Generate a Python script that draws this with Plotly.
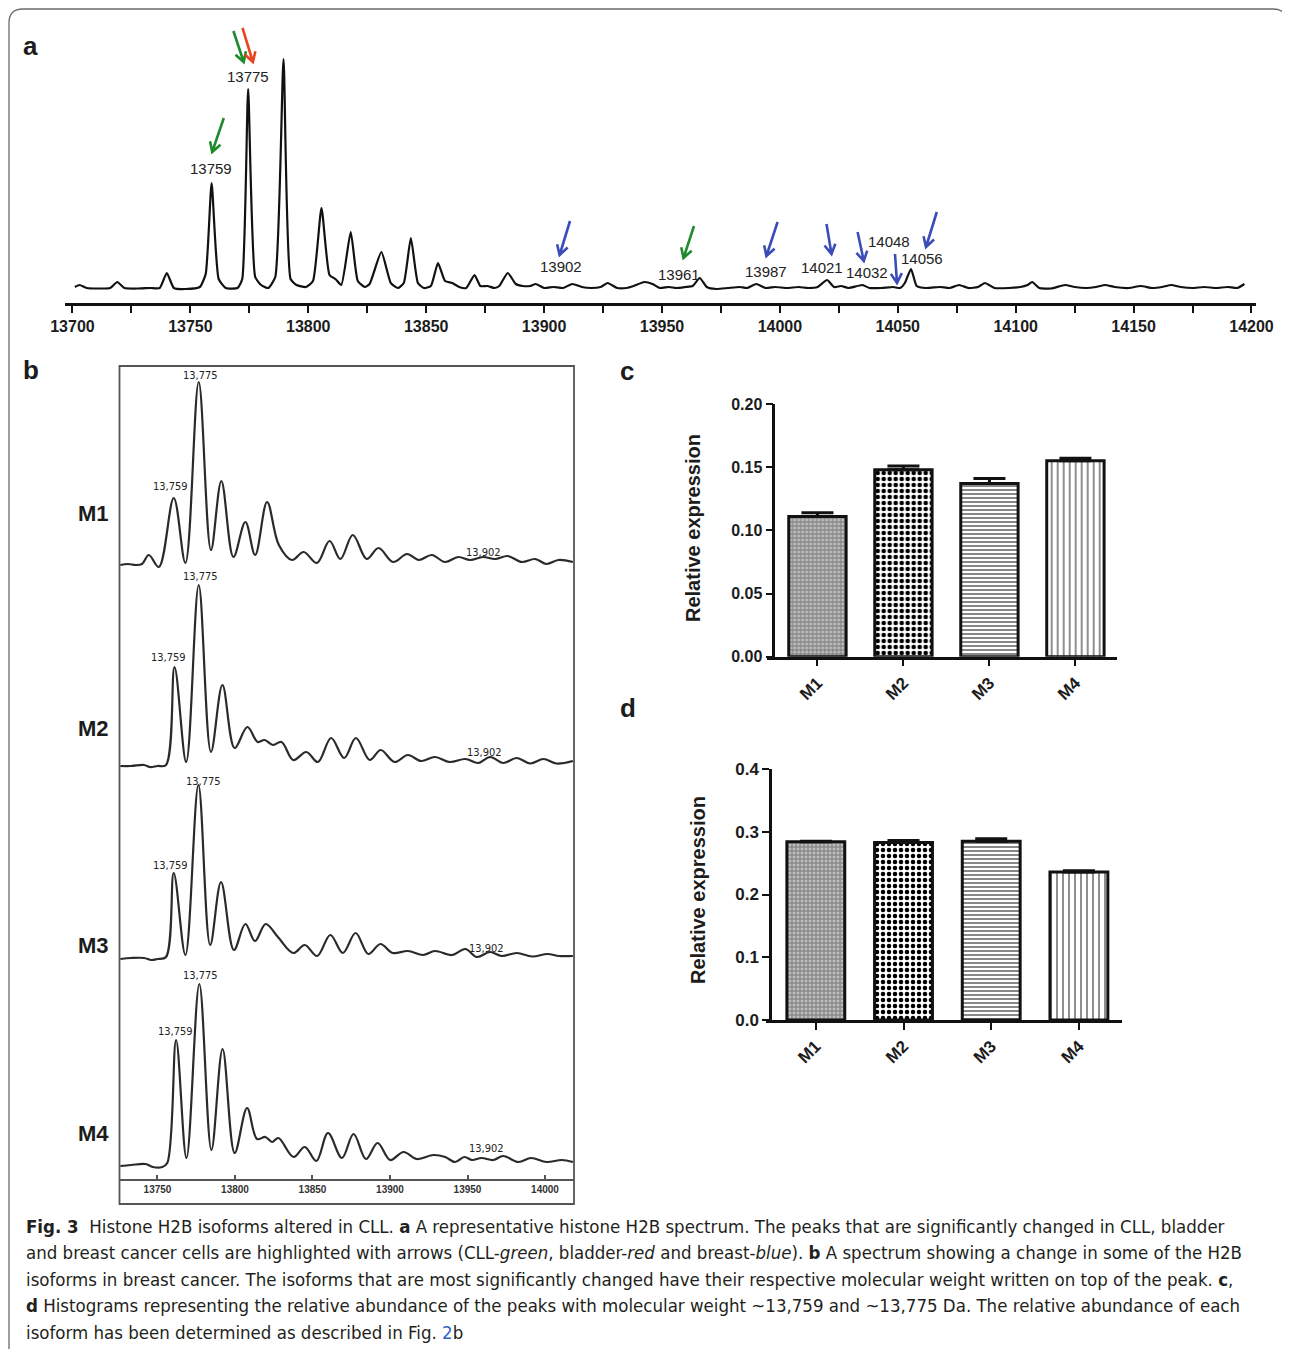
import math
import plotly.graph_objects as go

# page is offset by the 8px body margin; the figure is sized to fit the window
PAGE_OFF = 8
W, H = 1282, 1341

# ---------------- data ----------------
# Panel a: representative H2B spectrum (mass, relative intensity), peaks/valleys
A_MASS = [13701, 13703, 13706, 13712, 13716, 13719, 13722, 13728, 13733, 13737, 13740, 13743, 13748,
          13754, 13756.5, 13759, 13762, 13765, 13770, 13772, 13774.5, 13777.5, 13780, 13783, 13786,
          13789.5, 13792.5, 13795, 13799, 13802, 13805.6, 13809, 13811.5, 13814, 13818, 13821, 13824,
          13826, 13831, 13835, 13838, 13840.5, 13843.5, 13846.5, 13849, 13852, 13855, 13858, 13861,
          13864, 13867, 13870.5, 13873, 13876, 13879, 13881, 13884.6, 13888, 13891, 13894, 13896.5,
          13900, 13904, 13908, 13912, 13916, 13920, 13924, 13927, 13931, 13935, 13938, 13942.5, 13946,
          13949, 13953, 13956, 13960, 13963, 13966, 13969, 13973, 13978, 13983, 13986, 13990, 13994,
          13998, 14003, 14008, 14012, 14016, 14020, 14023, 14026, 14029, 14035, 14038, 14043, 14048,
          14051, 14053, 14055.6, 14058, 14062, 14068, 14072, 14076, 14080, 14084, 14087, 14091, 14097,
          14102, 14105, 14107, 14110, 14115, 14121, 14125, 14130, 14134, 14138, 14142, 14148, 14153,
          14158, 14162, 14166, 14170, 14175, 14180, 14185, 14190, 14194, 14197]
A_INT = [2, 4, 1, 0.5, 1, 7, 1, 0.5, 1, 1, 16, 1, 0,
         2, 15, 106, 10, 1, 1, 10, 200, 12, 4, 1, 12,
         230, 10, 4, 2, 8, 81, 14, 10, 4, 57, 8, 2,
         5, 37, 6, 1, 6, 51, 6, 1, 3, 26, 8, 6,
         2, 1, 14, 3, 3, 1, 3, 16, 5, 3, 3, 5,
         1, 2, 1, 5, 2, 1, 2, 6, 1, 1, 3, 7, 5,
         1, 2, 1, 2, 3, 11, 2, 0, 1, 2, 1, 5, 1,
         2, 1, 2, 1, 2, 9, 2, 3, 1, 4, 1, 1, 2,
         1, 6, 20, 3, 1, 2, 1, 4, 1, 2, 6, 1, 1,
         2, 4, 7, 1, 0.5, 4, 2, 1, 2, 4, 2, 1, 3,
         1, 2, 4, 2, 1, 2, 1, 2, 1, 5]
A_TICKS = [13700, 13750, 13800, 13850, 13900, 13950, 14000, 14050, 14100, 14150, 14200]
A_LABELS = ["13759", "13775", "13902", "13961", "13987", "14021", "14032", "14048", "14056"]

# Panel b: four spectra (mass, intensity)
B_MASS_M1 = [13726, 13731, 13736, 13740, 13744.4, 13750.9, 13760.5, 13768.0, 13776.6, 13784.5, 13791.2,
             13799.0, 13806.7, 13813.0, 13820.7, 13828.3, 13836.8, 13844.3, 13852.8, 13861, 13868,
             13876, 13885, 13892.6, 13902, 13911, 13918.5, 13927, 13935.5, 13944, 13951.7, 13960,
             13967.8, 13976, 13985, 13993.6, 14001, 14008.6, 14018]
B_INT_M1 = [0, 1, 0, 1, 10, -2, 67, 2, 183, 15, 84,
            8, 43, 10, 63, 20, 5, 13, 2, 24, 6,
            30, 6, 17, 3, 11, 5, 10, 3, 8, 5, 8,
            6, 9, 3, 6, 1, 5, 3]
B_MASS_M2 = [13726, 13733, 13741.4, 13745, 13750, 13755.5, 13761, 13768.5, 13776.6, 13784.5, 13791.9,
             13799.8, 13808, 13814.6, 13819, 13824.5, 13830, 13837.6, 13846, 13853.5, 13862, 13870.4,
             13878, 13886.9, 13894, 13902.9, 13911.5, 13920, 13929, 13938.5, 13948.6, 13957, 13964.6,
             13973, 13981.8, 13990.5, 13999, 14007.5, 14018]
B_INT_M2 = [0, 0, 1, -1, 0, 1, 99, 4, 181, 14, 81,
            18, 39, 24, 26, 21, 24, 6, 14, 4, 28, 8,
            28, 6, 16, 4, 11, 5, 9, 4, 7, 3, 9,
            3, 8, 2.5, 7, 2.5, 5]
B_MASS_M3 = [13726, 13733, 13741.4, 13746, 13750, 13755.5, 13760.5, 13768, 13776.4, 13784, 13791,
             13799.3, 13806.7, 13812.9, 13819.8, 13827.7, 13837.6, 13845, 13853, 13861.5, 13869.6,
             13877.8, 13886, 13893.8, 13901.7, 13911.5, 13921.4, 13929, 13940, 13948.6, 13956,
             13964.6, 13972, 13981.8, 13991.7, 14001.6, 14009, 14018]
B_INT_M3 = [0, 1, 1, -1, 0, 2, 86, 4, 174, 14, 77,
            9, 35, 18, 35, 22, 6, 14, 3, 24, 6,
            26, 5, 15, 6, 8, 4, 8, 4, 10, 2,
            7, 3, 6, 2.5, 5, 3, 3]
B_MASS_M4 = [13726, 13733, 13742.3, 13747, 13753, 13756.3, 13762, 13768.7, 13777, 13784.8, 13792,
             13799.8, 13807.8, 13814.2, 13819.6, 13823.9, 13828, 13837.8, 13845, 13852.5, 13860,
             13869, 13876.5, 13884.5, 13892, 13900.1, 13908.7, 13917.3, 13928, 13935.6, 13942, 13948,
             13953, 13959, 13966.7, 13973, 13982.8, 13991, 14001, 14010.8, 14018]
B_INT_M4 = [0, 1, 2, -1, -1, 3, 126, 8, 182, 16, 117,
            13, 58, 27, 29, 24, 28, 9, 19, 5, 33,
            8, 32, 7, 23, 6, 14, 7, 11, 9, 4, 9,
            6, 8, 6, 10, 4, 8, 4, 6, 4]
B_SAMPLES = ["M1", "M2", "M3", "M4"]
B_TICKS = [13750, 13800, 13850, 13900, 13950, 14000]

# Panels c and d: relative expression (upper error only, as drawn)
CATS = ["M1", "M2", "M3", "M4"]
C_VALS = [0.111, 0.148, 0.137, 0.155]
C_ERR = [0.003, 0.003, 0.004, 0.002]
D_VALS = [0.284, 0.283, 0.285, 0.236]
D_ERR = [0.001, 0.003, 0.004, 0.002]

# ---------------- helpers ----------------
def fx(p):
    return (p - PAGE_OFF) / W


def fy(p):
    return 1 - (p - PAGE_OFF) / H


ARIAL = "Liberation Sans, Arial, sans-serif"
NARROW = "Liberation Sans Narrow, Arial Narrow, DejaVu Sans Condensed, sans-serif"
INK = "#1c1c1c"

fig = go.Figure()

# ---------------- panel a ----------------
fig.add_trace(go.Scatter(x=A_MASS, y=A_INT, mode="lines", xaxis="x", yaxis="y",
                         line=dict(color="#111111", width=2.2, shape="spline", smoothing=0.5),
                         showlegend=False, hoverinfo="skip"))

# ---------------- panel b ----------------
B_OFFSETS = [614, 413, 220, 13]
b_sets = [(B_MASS_M1, B_INT_M1), (B_MASS_M2, B_INT_M2), (B_MASS_M3, B_INT_M3), (B_MASS_M4, B_INT_M4)]
for (mx, my), off in zip(b_sets, B_OFFSETS):
    fig.add_trace(go.Scatter(x=mx, y=[v + off for v in my], mode="lines", xaxis="x2", yaxis="y2",
                             line=dict(color="#2a2a2a", width=2.2, shape="spline", smoothing=1.0),
                             showlegend=False, hoverinfo="skip"))

# ---------------- panels c, d ----------------
PATTERNS = [
    dict(shape="+", fgcolor="#7a7a7a", bgcolor="#bdbdbd", size=4, solidity=0.45, fillmode="replace"),
    dict(shape=".", fgcolor="#000000", bgcolor="#ffffff", size=6, solidity=0.45, fillmode="replace"),
    dict(shape="-", fgcolor="#6a6a6a", bgcolor="#ffffff", size=4, solidity=0.4, fillmode="replace"),
    dict(shape="|", fgcolor="#6a6a6a", bgcolor="#ffffff", size=6, solidity=0.25, fillmode="replace"),
]
for vals, errs, xa, ya, bw in [(C_VALS, C_ERR, "x3", "y3", 0.667), (D_VALS, D_ERR, "x4", "y4", 0.66)]:
    for i, c in enumerate(CATS):
        fig.add_trace(go.Bar(x=[c], y=[vals[i]], xaxis=xa, yaxis=ya, width=bw,
                             marker=dict(color="white", pattern=PATTERNS[i],
                                         line=dict(color="#111111", width=3)),
                             error_y=dict(type="data", array=[errs[i]], arrayminus=[0],
                                          symmetric=False, visible=True,
                                          color="#111111", thickness=3, width=16),
                             showlegend=False, hoverinfo="skip"))

# ---------------- layout / axes ----------------
def tf(size, color=INK, family=ARIAL):
    return dict(family=family, size=size, color=color, weight="bold")


layout = dict(
    width=W, height=H, margin=dict(l=0, r=0, t=0, b=0, pad=0, autoexpand=False),
    paper_bgcolor="white", plot_bgcolor="rgba(0,0,0,0)", barmode="overlay",
    xaxis=dict(domain=[fx(65.4), fx(1256.2)], range=[13697, 14202], anchor="y", automargin=False,
               showline=True, linewidth=2.5, linecolor="#111111", showgrid=False, zeroline=False,
               ticks="outside", ticklen=7, tickwidth=2, tickcolor="#111111",
               tickvals=A_TICKS, ticktext=[str(t) for t in A_TICKS], tickfont=tf(16),
               minor=dict(dtick=25, tick0=13700, ticks="outside", ticklen=7, tickwidth=2,
                          tickcolor="#111111", showgrid=False)),
    yaxis=dict(domain=[fy(303), fy(50)], range=[-14, 239], visible=False, anchor="x",
               automargin=False),
    xaxis2=dict(domain=[fx(119.5), fx(574)], range=[13725.5, 14018.7], anchor="y2", automargin=False,
                showline=True, linewidth=1.6, linecolor="#555555", showgrid=False, zeroline=False,
                ticks="inside", ticklen=4, tickwidth=1.5, tickcolor="#555555",
                tickvals=B_TICKS, ticktext=[str(t) for t in B_TICKS], tickfont=tf(10, "#333333")),
    yaxis2=dict(domain=[fy(1179), fy(366)], range=[0, 813], visible=False, anchor="x2",
                automargin=False),
    xaxis3=dict(domain=[fx(766.7), fx(1116.7)], range=[-0.59, 3.48], anchor="y3", type="category",
                categoryarray=CATS, showline=True, linewidth=2.5, linecolor="#111111",
                automargin=False, showgrid=False, zeroline=False, ticks="outside", ticklen=7,
                tickwidth=2, tickcolor="#111111", tickangle=-45, tickfont=tf(17)),
    yaxis3=dict(domain=[fy(656.7), fy(404)], range=[0, 0.2], anchor="free", position=fx(773.3),
                automargin=False, showline=True, linewidth=2.5, linecolor="#111111", showgrid=False,
                zeroline=False, ticks="outside", ticklen=7, tickwidth=2, tickcolor="#111111",
                dtick=0.05, tickformat=".2f", tickfont=tf(16)),
    xaxis4=dict(domain=[fx(766), fx(1121.7)], range=[-0.568, 3.488], anchor="y4", type="category",
                categoryarray=CATS, showline=True, linewidth=2.5, linecolor="#111111",
                automargin=False, showgrid=False, zeroline=False, ticks="outside", ticklen=7,
                tickwidth=2, tickcolor="#111111", tickangle=-45, tickfont=tf(17)),
    yaxis4=dict(domain=[fy(1020), fy(769)], range=[0, 0.4], anchor="free", position=fx(770),
                automargin=False, showline=True, linewidth=2.5, linecolor="#111111", showgrid=False,
                zeroline=False, ticks="outside", ticklen=7, tickwidth=2, tickcolor="#111111",
                dtick=0.1, tickformat=".1f", tickfont=tf(17)),
)
fig.update_layout(**layout)

# ---------------- annotations ----------------
ann = []


def txt(x, y, s, size, family=ARIAL, color=INK, xanchor="center", angle=0):
    ann.append(dict(x=fx(x), y=fy(y), xref="paper", yref="paper", text=s, showarrow=False,
                    xanchor=xanchor, yanchor="middle", textangle=angle,
                    font=dict(family=family, size=size, color=color)))


# panel letters
txt(30, 46, "<b>a</b>", 26)
txt(31, 370, "<b>b</b>", 26)
txt(627, 371, "<b>c</b>", 26)
txt(628, 708, "<b>d</b>", 26)

# panel a peak labels
a_lab_pos = [(211, 169), (248, 76), (561, 266), (679, 274), (766, 271), (822, 268), (867, 273),
             (889, 241), (922, 259)]
for (px, py), s in zip(a_lab_pos, A_LABELS):
    txt(px, py, s, 15, color="#222222")

# panel b sample labels and peak labels
for s, py in zip(B_SAMPLES, [513, 728, 945, 1133]):
    txt(93, py, "<b>%s</b>" % s, 22)
b_lab = [
    [(200, 375), (170, 486), (483, 552)],
    [(201, 576), (169, 657), (484, 752)],
    [(203, 781), (170, 865), (486, 948)],
    [(200, 976), (175, 1032), (486, 1148)],
]
for trip in b_lab:
    for (px, py), s in zip(trip, ["13,775", "13,759", "13,902"]):
        txt(px, py, s, 11, family=NARROW, color="#222222")

# y titles of c, d
txt(693, 528, "<b>Relative expression</b>", 20, angle=-90)
txt(698, 890, "<b>Relative expression</b>", 20, angle=-90)

# caption
CAP = [
    "<b>Fig. 3</b>  Histone H2B isoforms altered in CLL. <b>a</b> A representative histone H2B spectrum. "
    "The peaks that are significantly changed in CLL, bladder",
    "and breast cancer cells are highlighted with arrows (CLL-<i>green</i>, bladder-<i>red</i> and "
    "breast-<i>blue</i>). <b>b</b> A spectrum showing a change in some of the H2B",
    "isoforms in breast cancer. The isoforms that are most significantly changed have their respective "
    "molecular weight written on top of the peak. <b>c</b>,",
    "<b>d</b> Histograms representing the relative abundance of the peaks with molecular weight ~13,759 "
    "and ~13,775 Da. The relative abundance of each",
    "isoform has been determined as described in Fig. <span style='color:#2f63c8'>2</span>b",
]
for i, line in enumerate(CAP):
    txt(24, 1226 + i * 26.5, line, 18.5, family=NARROW, color="#231f20", xanchor="left")

fig.update_layout(annotations=ann)

# ---------------- shapes: frame, panel b box, arrows ----------------
shapes = []


def P(x, y):
    return "%.5f,%.5f" % (fx(x), fy(y))


# outer rounded frame
shapes.append(dict(type="path", xref="paper", yref="paper",
                   path="M %s L %s Q %s %s L %s Q %s %s L %s" % (
                       P(9, 1380), P(9, 23), P(9, 9), P(23, 9), P(1273, 9), P(1287, 9), P(1287, 23),
                       P(1287, 1380)),
                   line=dict(color="#6a6a6a", width=1.3)))
# panel b outer box
shapes.append(dict(type="rect", xref="paper", yref="paper", x0=fx(119.5), x1=fx(574), y0=fy(1204),
                   y1=fy(366), line=dict(color="#555555", width=1.8)))

GREEN, RED, BLUE = "#1f8a2e", "#e8441f", "#3b4cb8"


def arrow(x0, y0, x1, y1, color, head=11, ang=30):
    L = math.hypot(x1 - x0, y1 - y0)
    ux, uy = (x1 - x0) / L, (y1 - y0) / L
    pts = []
    for sgn in (1, -1):
        a = math.radians(ang) * sgn
        rx = ux * math.cos(a) - uy * math.sin(a)
        ry = ux * math.sin(a) + uy * math.cos(a)
        pts.append((x1 - head * rx, y1 - head * ry))
    path = "M %s L %s M %s L %s L %s" % (P(x0, y0), P(x1, y1), P(*pts[0]), P(x1, y1), P(*pts[1]))
    shapes.append(dict(type="path", xref="paper", yref="paper", path=path,
                       line=dict(color=color, width=2.6)))


arrow(223.8, 118, 212.2, 152, GREEN)
arrow(233.4, 31, 243.7, 62, GREEN)
arrow(242.5, 28, 252.9, 62, RED)
arrow(570, 221, 559.6, 255, BLUE)
arrow(694, 226, 683.5, 258, GREEN)
arrow(777.6, 222, 766.4, 256, BLUE)
arrow(826.5, 224, 831.5, 254, BLUE)
arrow(857.6, 232, 863.8, 261, BLUE)
arrow(895, 254, 897, 283, BLUE)
arrow(936.8, 212, 926, 247, BLUE)

fig.update_layout(shapes=shapes)

fig.write_html("out.html")
